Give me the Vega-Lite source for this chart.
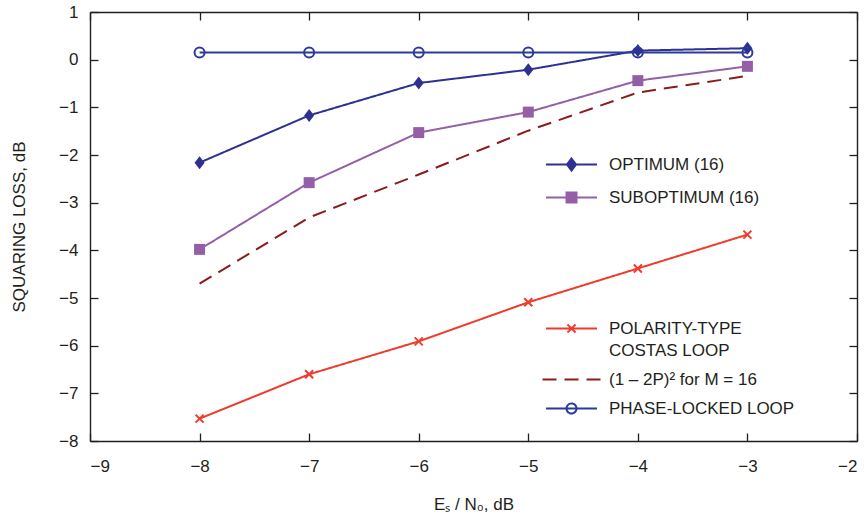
{
  "$schema": "https://vega.github.io/schema/vega-lite/v6.json",
  "width": 767,
  "height": 429,
  "autosize": "none",
  "padding": {"left": 90, "top": 12, "right": 10, "bottom": 78},
  "background": "white",
  "config": {
    "font": "Liberation Sans",
    "view": {"stroke": null},
    "style": {"guide-label": {"lineHeight": 22}},
    "axis": {
      "labelFont": "Liberation Sans",
      "titleFont": "Liberation Sans",
      "labelFontSize": 17,
      "titleFontSize": 17,
      "titleFontWeight": "normal",
      "labelColor": "#231f20",
      "titleColor": "#231f20",
      "domainColor": "#231f20",
      "tickColor": "#231f20",
      "domainWidth": 1.4,
      "tickWidth": 1.3,
      "grid": false
    },
    "legend": {
      "labelFont": "Liberation Sans",
      "labelFontSize": 17,
      "labelColor": "#231f20",
      "labelLimit": 400
    }
  },
  "data": {
    "values": [
      {"series": "OPTIMUM (16)", "x": -8, "y": -2.16},
      {"series": "OPTIMUM (16)", "x": -7, "y": -1.17},
      {"series": "OPTIMUM (16)", "x": -6, "y": -0.49},
      {"series": "OPTIMUM (16)", "x": -5, "y": -0.21},
      {"series": "OPTIMUM (16)", "x": -4, "y": 0.19},
      {"series": "OPTIMUM (16)", "x": -3, "y": 0.24},
      {"series": "SUBOPTIMUM (16)", "x": -8, "y": -3.98},
      {"series": "SUBOPTIMUM (16)", "x": -7, "y": -2.58},
      {"series": "SUBOPTIMUM (16)", "x": -6, "y": -1.53},
      {"series": "SUBOPTIMUM (16)", "x": -5, "y": -1.1},
      {"series": "SUBOPTIMUM (16)", "x": -4, "y": -0.44},
      {"series": "SUBOPTIMUM (16)", "x": -3, "y": -0.14},
      {"series": "(1 – 2P)² for M = 16", "x": -8, "y": -4.7},
      {"series": "(1 – 2P)² for M = 16", "x": -7, "y": -3.31},
      {"series": "(1 – 2P)² for M = 16", "x": -6, "y": -2.41},
      {"series": "(1 – 2P)² for M = 16", "x": -5, "y": -1.49},
      {"series": "(1 – 2P)² for M = 16", "x": -4, "y": -0.69},
      {"series": "(1 – 2P)² for M = 16", "x": -3, "y": -0.34},
      {"series": "POLARITY-TYPE COSTAS LOOP", "x": -8, "y": -7.53},
      {"series": "POLARITY-TYPE COSTAS LOOP", "x": -7, "y": -6.6},
      {"series": "POLARITY-TYPE COSTAS LOOP", "x": -6, "y": -5.91},
      {"series": "POLARITY-TYPE COSTAS LOOP", "x": -5, "y": -5.09},
      {"series": "POLARITY-TYPE COSTAS LOOP", "x": -4, "y": -4.38},
      {"series": "POLARITY-TYPE COSTAS LOOP", "x": -3, "y": -3.67},
      {"series": "PHASE-LOCKED LOOP", "x": -8, "y": 0.15},
      {"series": "PHASE-LOCKED LOOP", "x": -7, "y": 0.15},
      {"series": "PHASE-LOCKED LOOP", "x": -6, "y": 0.15},
      {"series": "PHASE-LOCKED LOOP", "x": -5, "y": 0.15},
      {"series": "PHASE-LOCKED LOOP", "x": -4, "y": 0.15},
      {"series": "PHASE-LOCKED LOOP", "x": -3, "y": 0.15}
    ]
  },
  "resolve": {
    "scale": {"shape": "independent", "color": "independent", "stroke": "independent", "strokeDash": "independent"},
    "axis": {"x": "independent", "y": "independent"},
    "legend": {"shape": "independent", "color": "independent", "stroke": "independent", "strokeDash": "independent"}
  },
  "layer": [
    {
      "mark": {"type": "line", "strokeWidth": 2},
      "encoding": {
        "x": {"field": "x", "type": "quantitative", "scale": {"domain": [-9, -2], "nice": false},
          "axis": {"orient": "bottom", "values": [-9, -8, -7, -6, -5, -4, -3, -2], "tickSize": -8, "labelPadding": 25, "title": "Eₛ / N₀, dB", "titlePadding": 22}},
        "y": {"field": "y", "type": "quantitative", "scale": {"domain": [-8, 1], "nice": false, "zero": false},
          "axis": {"orient": "left", "values": [-8, -7, -6, -5, -4, -3, -2, -1, 0, 1], "tickSize": -8, "labelPadding": 20, "title": "SQUARING LOSS, dB", "titlePadding": 30}},
        "detail": {"field": "series"},
        "color": {"field": "series", "type": "nominal", "legend": null,
          "scale": {"domain": ["OPTIMUM (16)", "SUBOPTIMUM (16)", "POLARITY-TYPE COSTAS LOOP", "(1 – 2P)² for M = 16", "PHASE-LOCKED LOOP"],
            "range": ["#2e3192", "#9360a8", "#ef3b2c", "#8b1c1c", "#2b3a9b"]}},
        "strokeDash": {"field": "series", "type": "nominal", "legend": null,
          "scale": {"domain": ["OPTIMUM (16)", "SUBOPTIMUM (16)", "POLARITY-TYPE COSTAS LOOP", "(1 – 2P)² for M = 16", "PHASE-LOCKED LOOP"],
            "range": [[1, 0], [1, 0], [1, 0], [14, 8], [1, 0]]}}
      }
    },
    {
      "transform": [{"filter": {"field": "series", "oneOf": ["OPTIMUM (16)", "SUBOPTIMUM (16)"]}}],
      "mark": {"type": "point", "filled": true, "size": 100, "opacity": 1, "strokeWidth": 0},
      "encoding": {
        "x": {"field": "x", "type": "quantitative", "axis": null},
        "y": {"field": "y", "type": "quantitative", "axis": null},
        "color": {"field": "series", "type": "nominal", "legend": null,
          "scale": {"domain": ["OPTIMUM (16)", "SUBOPTIMUM (16)"], "range": ["#2e3192", "#9360a8"]}},
        "shape": {"field": "series", "type": "nominal", "legend": null,
          "scale": {"domain": ["OPTIMUM (16)", "SUBOPTIMUM (16)"], "range": ["M0,-1.3L1,0L0,1.3L-1,0Z", "M-1.1,-1.1H1.1V1.1H-1.1Z"]}}
      }
    },
    {
      "transform": [{"filter": {"field": "series", "oneOf": ["POLARITY-TYPE COSTAS LOOP", "PHASE-LOCKED LOOP"]}}],
      "mark": {"type": "point", "filled": false, "size": 100, "opacity": 1, "strokeWidth": 2},
      "encoding": {
        "x": {"field": "x", "type": "quantitative", "axis": null},
        "y": {"field": "y", "type": "quantitative", "axis": null},
        "color": {"field": "series", "type": "nominal", "legend": null,
          "scale": {"domain": ["POLARITY-TYPE COSTAS LOOP", "PHASE-LOCKED LOOP"], "range": ["#ef3b2c", "#2b3a9b"]}},
        "shape": {"field": "series", "type": "nominal", "legend": null,
          "scale": {"domain": ["POLARITY-TYPE COSTAS LOOP", "PHASE-LOCKED LOOP"], "range": ["M-0.8,-0.8L0.8,0.8M-0.8,0.8L0.8,-0.8", "M-1,0A1,1 0 1,0 1,0A1,1 0 1,0 -1,0"]}}
      }
    },
    {
      "transform": [{"filter": {"field": "series", "oneOf": ["OPTIMUM (16)", "SUBOPTIMUM (16)"]}}],
      "mark": {"type": "point", "filled": true, "opacity": 0},
      "encoding": {
        "x": {"field": "x", "type": "quantitative",
          "axis": {"orient": "top", "values": [-9, -8, -7, -6, -5, -4, -3, -2], "tickSize": -8, "labels": false, "title": null}},
        "y": {"field": "y", "type": "quantitative",
          "axis": {"orient": "right", "values": [-8, -7, -6, -5, -4, -3, -2, -1, 0, 1], "tickSize": -8, "labels": false, "title": null}},
        "color": {"field": "series", "type": "nominal",
          "scale": {"domain": ["OPTIMUM (16)", "SUBOPTIMUM (16)"], "range": ["#2e3192", "#9360a8"]},
          "legend": {"orient": "none", "legendX": 473, "legendY": 144, "title": null, "padding": 0,
            "symbolSize": 100, "labelOffset": 29, "rowPadding": 13, "symbolStrokeWidth": 2, "symbolOpacity": 1}},
        "stroke": {"field": "series", "type": "nominal",
          "scale": {"domain": ["OPTIMUM (16)", "SUBOPTIMUM (16)"], "range": ["#2e3192", "#9360a8"]},
          "legend": {"orient": "none", "legendX": 473, "legendY": 144, "title": null, "padding": 0,
            "symbolSize": 100, "labelOffset": 29, "rowPadding": 13, "symbolStrokeWidth": 2, "symbolOpacity": 1}},
        "shape": {"field": "series", "type": "nominal",
          "scale": {"domain": ["OPTIMUM (16)", "SUBOPTIMUM (16)"],
            "range": ["M-5.1,0H5.1M0,-1.2L0.9,0L0,1.2L-0.9,0Z", "M-5.1,0H5.1M-1,-1H1V1H-1Z"]},
          "legend": {"orient": "none", "legendX": 473, "legendY": 144, "title": null, "padding": 0,
            "symbolSize": 100, "labelOffset": 29, "rowPadding": 13, "symbolStrokeWidth": 2, "symbolOpacity": 1}}
      }
    },
    {
      "transform": [{"filter": {"field": "series", "oneOf": ["POLARITY-TYPE COSTAS LOOP", "(1 – 2P)² for M = 16", "PHASE-LOCKED LOOP"]}}],
      "mark": {"type": "point", "filled": false, "opacity": 0},
      "encoding": {
        "x": {"field": "x", "type": "quantitative", "axis": null},
        "y": {"field": "y", "type": "quantitative", "axis": null},
        "color": {"field": "series", "type": "nominal",
          "scale": {"domain": ["POLARITY-TYPE COSTAS LOOP", "(1 – 2P)² for M = 16", "PHASE-LOCKED LOOP"], "range": ["#ef3b2c", "#8b1c1c", "#2b3a9b"]},
          "legend": {"orient": "none", "legendX": 473, "legendY": 308, "title": null, "padding": 0,
            "symbolSize": 100, "labelOffset": 29, "rowPadding": 11, "symbolStrokeWidth": 2, "symbolOpacity": 1, "symbolFillColor": "transparent",
            "labelExpr": "datum.label === 'POLARITY-TYPE COSTAS LOOP' ? ['POLARITY-TYPE', 'COSTAS LOOP'] : datum.label"}},
        "strokeDash": {"field": "series", "type": "nominal",
          "scale": {"domain": ["POLARITY-TYPE COSTAS LOOP", "(1 – 2P)² for M = 16", "PHASE-LOCKED LOOP"], "range": [[1, 0], [14, 8], [1, 0]]},
          "legend": {"orient": "none", "legendX": 473, "legendY": 308, "title": null, "padding": 0,
            "symbolSize": 100, "labelOffset": 29, "rowPadding": 11, "symbolStrokeWidth": 2, "symbolOpacity": 1, "symbolFillColor": "transparent",
            "labelExpr": "datum.label === 'POLARITY-TYPE COSTAS LOOP' ? ['POLARITY-TYPE', 'COSTAS LOOP'] : datum.label"}},
        "shape": {"field": "series", "type": "nominal",
          "scale": {"domain": ["POLARITY-TYPE COSTAS LOOP", "(1 – 2P)² for M = 16", "PHASE-LOCKED LOOP"],
            "range": ["M-5.1,0H5.1M-0.8,-0.8L0.8,0.8M-0.8,0.8L0.8,-0.8", "M-5.8,0H5.8", "M-5.1,0H5.1M-1,0A1,1 0 1,0 1,0A1,1 0 1,0 -1,0"]},
          "legend": {"orient": "none", "legendX": 473, "legendY": 308, "title": null, "padding": 0,
            "symbolSize": 100, "labelOffset": 29, "rowPadding": 11, "symbolStrokeWidth": 2, "symbolOpacity": 1, "symbolFillColor": "transparent",
            "labelExpr": "datum.label === 'POLARITY-TYPE COSTAS LOOP' ? ['POLARITY-TYPE', 'COSTAS LOOP'] : datum.label"}}
      }
    }
  ]
}
